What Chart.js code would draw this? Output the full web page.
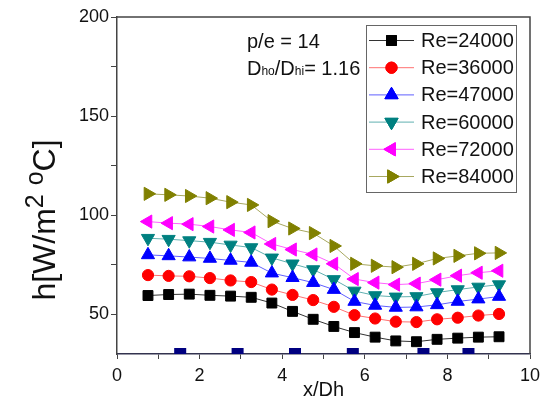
<!DOCTYPE html>
<html><head><meta charset="utf-8">
<script src="https://cdn.jsdelivr.net/npm/chart.js@4/dist/chart.umd.min.js"></script>
<style>html,body{margin:0;padding:0;background:#fff;}#wrap{width:549px;height:398px;position:relative;}</style>
</head><body><div id="wrap"><canvas id="c" width="549" height="398"></canvas></div>
<script>
// ---- data ----
const xPositions = [0.75,1.25,1.75,2.25,2.75,3.25,3.75,4.25,4.75,5.25,5.75,6.25,6.75,7.25,7.75,8.25,8.75,9.25];
const re24000 = [59.5,60.0,60.2,59.6,59.2,58.6,55.7,51.5,47.5,43.9,40.8,38.5,36.6,36.2,37.4,38.0,38.5,38.7];
const re36000 = [69.8,69.4,69.2,68.3,67.1,66.3,62.5,59.8,57.2,53.8,49.6,47.9,46.3,46.1,47.5,48.3,49.4,50.2];
const re47000 = [80.0,79.5,78.9,78.2,77.2,76.2,70.8,68.5,66.0,62.5,56.5,54.5,53.5,53.7,54.8,56.5,57.7,59.0];
const re60000 = [88.4,87.9,87.2,86.4,85.0,83.7,78.5,75.5,72.6,67.6,61.8,59.5,58.8,59.0,61.0,62.5,63.8,65.0];
const re72000 = [96.8,96.0,95.5,94.3,92.6,91.3,85.5,82.7,80.2,75.5,67.8,66.0,65.0,65.5,67.5,69.5,71.0,72.0];
const re84000 = [110.8,110.3,109.7,108.6,106.6,105.2,97.0,93.3,91.0,84.5,75.5,74.5,73.8,75.5,78.2,79.5,80.8,81.0];
const seriesNames = ['Re=24000','Re=36000','Re=47000','Re=60000','Re=72000','Re=84000'];
const ribX = [1.53,2.92,4.31,5.71,7.42,8.51];
const ribY = [30,30,30,30,30,30];
const xTickLabels = [0,2,4,6,8,10];
const yTickLabels = [50,100,150,200];
const annotation1 = 'p/e = 14';
const yTitleParts = ['h[W/m','2','o','C]'];

// ---- styles ----
const FONT = "'Liberation Sans', Arial, sans-serif";
const seriesValues = [re24000,re36000,re47000,re60000,re72000,re84000];
const styles = [
  {fill:'#000000', line:'#333333', pointStyle:'rect', rotation:0, radius:7},
  {fill:'#ff0000', line:'#ff7070', pointStyle:'circle', rotation:0, radius:5.6},
  {fill:'#0000ff', line:'#6060ff', pointStyle:'triangle', rotation:0, radius:7.6},
  {fill:'#008080', line:'#60b0b0', pointStyle:'triangle', rotation:180, radius:7.6},
  {fill:'#ff00ff', line:'#ff60ff', pointStyle:'triangle', rotation:270, radius:7.6},
  {fill:'#808000', line:'#a8a860', pointStyle:'triangle', rotation:90, radius:7.6}
];

const datasets = seriesValues.map((vals, i) => ({
  label: seriesNames[i],
  data: xPositions.map((x, k) => ({x: x, y: vals[k]})),
  showLine: true,
  borderColor: styles[i].line,
  borderWidth: 1,
  backgroundColor: styles[i].fill,
  pointBackgroundColor: styles[i].fill,
  pointBorderColor: styles[i].fill,
  pointBorderWidth: 1,
  pointStyle: styles[i].pointStyle,
  pointRotation: styles[i].rotation,
  pointRadius: styles[i].radius,
  pointHoverRadius: styles[i].radius,
  tension: 0
}));
datasets.unshift({
  label: 'ribs',
  data: ribX.map((x, k) => ({x: x, y: ribY[k]})),
  showLine: false,
  pointStyle: 'rect',
  pointRadius: 8.5,
  pointBackgroundColor: '#000080',
  pointBorderColor: '#000080',
  pointBorderWidth: 0
});

function marker(ctx, st, x, y) {
  ctx.save();
  ctx.fillStyle = st.fill; ctx.strokeStyle = st.fill; ctx.lineWidth = 1;
  if (Chart.helpers && Chart.helpers.drawPoint) {
    Chart.helpers.drawPoint(ctx, {pointStyle: st.pointStyle, rotation: st.rotation, radius: st.radius, borderWidth: 1}, x, y);
    ctx.fill(); ctx.stroke();
  }
  ctx.restore();
}

const overlay = {
  id: 'overlay',
  afterDraw(chart) {
    const ctx = chart.ctx, ca = chart.chartArea;
    ctx.save();
    // top and right frame
    ctx.strokeStyle = '#444'; ctx.lineWidth = 1.5;
    ctx.beginPath(); ctx.moveTo(ca.left, ca.top); ctx.lineTo(ca.right, ca.top); ctx.lineTo(ca.right, ca.bottom); ctx.stroke();
    // legend box
    const L = {x: 366, y: 25, w: 150, h: 167, row: 27.2, first: 40.5};
    ctx.fillStyle = '#fff'; ctx.fillRect(L.x, L.y, L.w, L.h);
    ctx.strokeStyle = '#666'; ctx.lineWidth = 1; ctx.strokeRect(L.x + 0.5, L.y + 0.5, L.w, L.h);
    ctx.font = '20px ' + FONT; ctx.textBaseline = 'middle'; ctx.textAlign = 'left';
    seriesNames.forEach((name, i) => {
      const y = L.y + (L.first - 25) + i * L.row;
      ctx.strokeStyle = styles[i].line; ctx.lineWidth = 1;
      ctx.beginPath(); ctx.moveTo(L.x + 3, y); ctx.lineTo(L.x + 48, y); ctx.stroke();
      marker(ctx, styles[i], L.x + 25.5, y);
      ctx.fillStyle = '#111'; ctx.fillText(name, L.x + 55, y + 1);
    });
    // annotation
    ctx.fillStyle = '#111'; ctx.textBaseline = 'alphabetic';
    ctx.font = '20px ' + FONT;
    ctx.fillText(annotation1, 247, 48);
    let x = 247; const by = 75;
    const parts = [['D',20],['ho',12],['/D',20],['hi',12],['= 1.16',20]];
    parts.forEach(p => { ctx.font = p[1] + 'px ' + FONT; ctx.fillText(p[0], x, by); x += ctx.measureText(p[0]).width; });
    // y title
    const big = 32, small = 25;
    const segs = [[yTitleParts[0], big, 0], [yTitleParts[1], small, -12], [' ', big, 0], [yTitleParts[2], small, -12], [yTitleParts[3], big, 0]];
    let total = 0;
    segs.forEach(s => { ctx.font = s[1] + 'px ' + FONT; s.push(ctx.measureText(s[0]).width); total += s[3]; });
    ctx.translate(55, 220); ctx.rotate(-Math.PI / 2);
    let tx = -total / 2;
    segs.forEach(s => { ctx.font = s[1] + 'px ' + FONT; ctx.fillText(s[0], tx, s[2]); tx += s[3]; });
    ctx.restore();
  }
};

new Chart(document.getElementById('c'), {
  type: 'scatter',
  data: {datasets: datasets},
  options: {
    responsive: false, animation: false, devicePixelRatio: 1,
    layout: {padding: {top: 17, right: 19, left: 0, bottom: 0}},
    plugins: {legend: {display: false}, tooltip: {enabled: false}},
    scales: {
      x: {
        type: 'linear', min: 0, max: 10,
        afterFit: s => { s.height = 44; },
        grid: {drawOnChartArea: false, drawTicks: true, tickLength: 5, color: '#444', lineWidth: 1},
        border: {display: true, color: '#33334f', width: 1.5},
        ticks: {stepSize: 1, autoSkip: false, maxRotation: 0, padding: 6, color: '#111', font: {size: 18, family: FONT},
          callback: v => xTickLabels.includes(v) ? String(v) : ''},
        title: {display: true, text: 'x/Dh', color: '#111', font: {size: 20, family: FONT, lineHeight: 1}, padding: {top: 0, bottom: -2}}
      },
      y: {
        type: 'linear', min: 30, max: 200,
        afterFit: s => { s.width = 117; },
        afterBuildTicks: s => { s.ticks = s.ticks.filter(t => t.value % 25 === 0); },
        grid: {drawOnChartArea: false, drawTicks: true, tickLength: 6, color: '#444', lineWidth: 1},
        border: {display: true, color: '#444', width: 1.5},
        ticks: {stepSize: 25, autoSkip: false, padding: 2, color: '#111', font: {size: 18, family: FONT},
          callback: v => yTickLabels.includes(v) ? String(v) : ''}
      }
    }
  },
  plugins: [overlay]
});
</script></body></html>
